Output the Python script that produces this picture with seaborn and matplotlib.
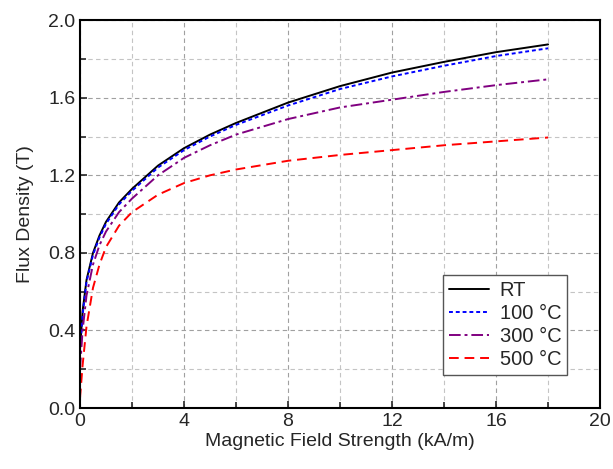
import pandas as pd
import matplotlib.pyplot as plt
import numpy as np
import seaborn as sns
from matplotlib.ticker import MultipleLocator

#Data
H = [0, 0.1, 0.25, 0.5, 0.75, 1, 1.5, 2, 3, 4, 5, 6, 8, 10, 12, 14, 16, 18]
B_RT = [0.30, 0.50, 0.66, 0.80, 0.89, 0.96, 1.06, 1.13, 1.25, 1.34, 1.41, 1.47,
        1.575, 1.66, 1.73, 1.785, 1.835, 1.875]
B_100 = [0.28, 0.48, 0.65, 0.79, 0.88, 0.95, 1.05, 1.12, 1.24, 1.33, 1.40, 1.46,
         1.56, 1.645, 1.71, 1.765, 1.815, 1.855]
B_300 = [0.20, 0.40, 0.58, 0.74, 0.84, 0.91, 1.01, 1.08, 1.20, 1.29, 1.355, 1.41,
         1.49, 1.55, 1.59, 1.63, 1.665, 1.695]
B_500 = [0.05, 0.22, 0.42, 0.62, 0.74, 0.83, 0.94, 1.01, 1.10, 1.16, 1.20, 1.23,
         1.275, 1.305, 1.33, 1.355, 1.375, 1.395]

sns.set_style('ticks')
plt.rcParams['font.family'] = ['Liberation Sans', 'DejaVu Sans']

fig = plt.figure(figsize = (6.13, 4.69), dpi = 100)
ax = fig.add_axes([0.1305, 0.130, 0.8485, 0.827])

series = [('RT', B_RT, 'black', '-'),
          ('100 \u00b0C', B_100, 'blue', (0, (2, 1.5))),
          ('300 \u00b0C', B_300, 'purple', (0, (6, 2, 1.5, 2))),
          ('500 \u00b0C', B_500, 'red', (0, (5, 3)))]
for lab, vals, col, ls in series:
    sns.lineplot(x = H, y = vals, ax = ax, color = col, label = lab,
                 linewidth = 1.4, linestyle = ls)

#Figure Specifications
ax.set_xlim(0, 20)
ax.set_ylim(0, 2.0)
ax.xaxis.set_major_locator(MultipleLocator(4))
ax.xaxis.set_minor_locator(MultipleLocator(2))
ax.yaxis.set_major_locator(MultipleLocator(0.4))
ax.yaxis.set_minor_locator(MultipleLocator(0.2))
ax.yaxis.set_major_formatter(plt.FuncFormatter(lambda v, p: f'{v:.1f}'))
ax.grid(which = 'major', color = '#a0a0a0', linestyle = (0, (4, 3)), linewidth = 0.8)
ax.grid(which = 'minor', color = '#c4c4c4', linestyle = (0, (4, 3)), linewidth = 0.8)
ax.set_axisbelow(True)
ax.tick_params(which = 'both', direction = 'in', labelsize = 14, width = 1.2)
ax.tick_params(which = 'major', length = 5)
ax.tick_params(which = 'minor', length = 4)
for s in ax.spines.values():
    s.set_linewidth(1.5)
    s.set_color('black')
ax.set_xlabel('Magnetic Field Strength (kA/m)', fontsize = 14, labelpad = 2)
ax.set_ylabel('Flux Density (T)', fontsize = 14, labelpad = 10)

leg = ax.legend(loc = 'lower right', bbox_to_anchor = (0.937, 0.085),
                borderaxespad = 0, fontsize = 14.5, fancybox = False,
                framealpha = 1, edgecolor = '#555555', handlelength = 2.0,
                borderpad = 0.3, labelspacing = 0.2, handletextpad = 0.5)
leg.get_frame().set_linewidth(1.0)

plt.savefig('out.png', dpi = 100)
